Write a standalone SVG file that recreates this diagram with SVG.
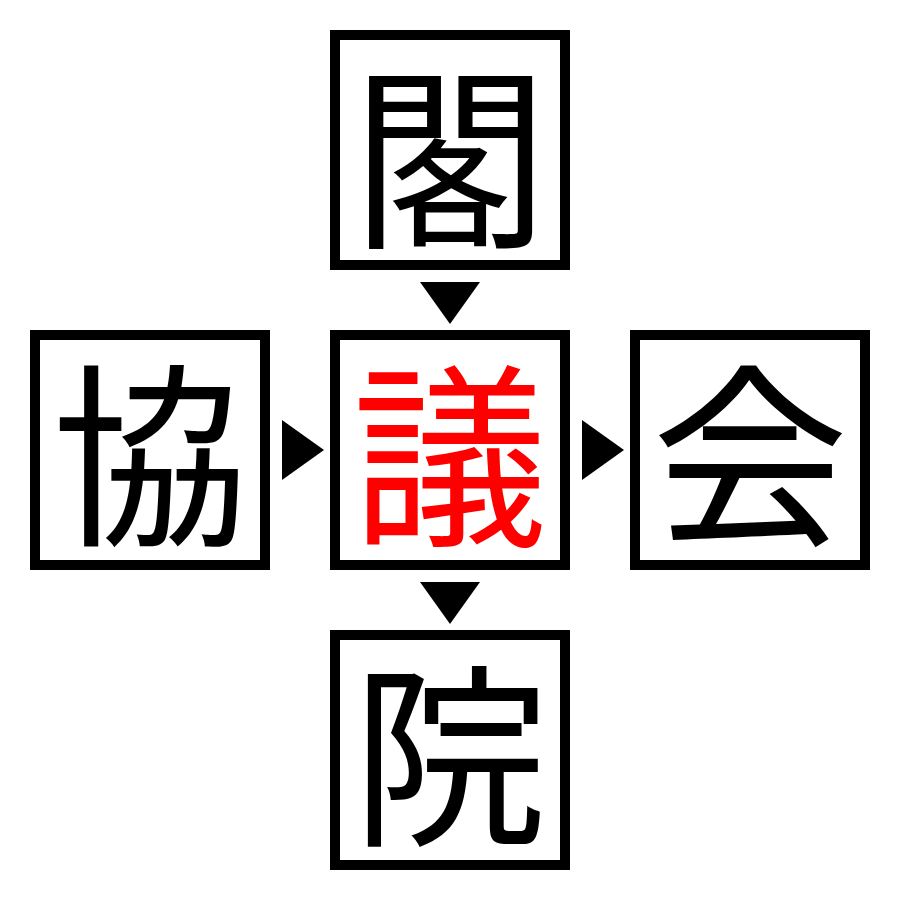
<svg xmlns="http://www.w3.org/2000/svg" width="900" height="900" viewBox="0 0 900 900">
<style>
.box{fill:#fff;stroke:#000;stroke-width:10}
.ch{font-family:"Noto Sans CJK JP","Noto Sans CJK SC",sans-serif;font-size:196px;text-anchor:middle;dominant-baseline:central;fill:#000}
.red{fill:#ff0000}
.arr{fill:#000}
</style>
<rect width="900" height="900" fill="#fff"/>
<g id="connectors">
<polygon class="arr" points="420,282 480,282 450,324"/>
<polygon class="arr" points="420,582 480,582 450,624"/>
<polygon class="arr" points="282,420 282,480 324,450"/>
<polygon class="arr" points="582,420 582,480 624,450"/>
</g>
<g id="node-top"><rect class="box" x="335" y="35" width="230" height="230"/><text class="ch" x="450" y="146">閣</text></g>
<g id="node-left"><rect class="box" x="35" y="335" width="230" height="230"/><text class="ch" x="150" y="444">協</text></g>
<g id="node-center"><rect class="box" x="335" y="335" width="230" height="230"/><text class="ch red" x="450" y="444">議</text></g>
<g id="node-right"><rect class="box" x="635" y="335" width="230" height="230"/><text class="ch" x="750" y="444">会</text></g>
<g id="node-bottom"><rect class="box" x="335" y="635" width="230" height="230"/><text class="ch" x="450" y="744">院</text></g>
</svg>
